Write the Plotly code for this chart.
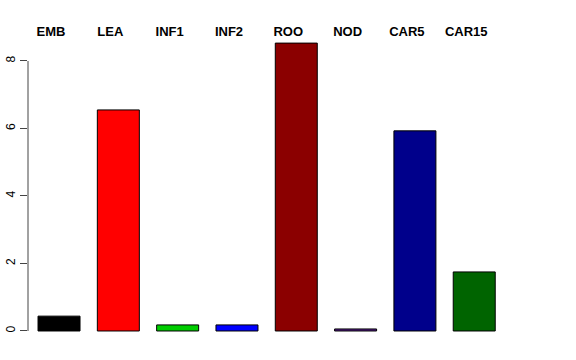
import plotly.graph_objects as go

categories = ["EMB", "LEA", "INF1", "INF2", "ROO", "NOD", "CAR5", "CAR15"]
values = [0.44, 6.55, 0.18, 0.18, 8.53, 0.06, 5.93, 1.75]
colors = ["#000000", "#FF0000", "#00CD00", "#0000FF", "#8B0000", "#551A8B", "#00008B", "#006400"]
y_ticks = [0, 2, 4, 6, 8]

xpos = list(range(len(categories)))

fig = go.Figure(go.Bar(
    x=xpos, y=values,
    marker=dict(color=colors, line=dict(color="#000000", width=1)),
    width=0.708,
))

fig.update_layout(
    width=576, height=360,
    margin=dict(l=28, r=30, t=40, b=20),
    plot_bgcolor="white", paper_bgcolor="white",
    showlegend=False,
    font=dict(family="Liberation Sans, Arial, sans-serif", color="black"),
)
fig.update_xaxes(
    side="top", range=[-0.523, 8.21], automargin=False,
    tickvals=xpos, ticktext=["<b>%s</b>" % c for c in categories],
    tickfont=dict(size=13, color="black"), ticklabelshift=-8,
    showgrid=False, zeroline=False, showline=False, ticks="",
)
fig.update_yaxes(
    range=[-0.267, 8.622], automargin=False,
    tickvals=y_ticks, ticktext=[str(v) for v in y_ticks],
    tickangle=-90, tickfont=dict(size=12, color="black"),
    ticks="outside", ticklen=7, tickcolor="#444444", tickwidth=1,
    showgrid=False, zeroline=False, showline=False,
)
fig.add_shape(type="line", xref="paper", yref="y", x0=0, x1=0,
              y0=min(y_ticks), y1=max(y_ticks), line=dict(color="#444444", width=1))

fig.write_html("out.html", config={"displayModeBar": False},
               post_script="document.body.style.margin='0';")
